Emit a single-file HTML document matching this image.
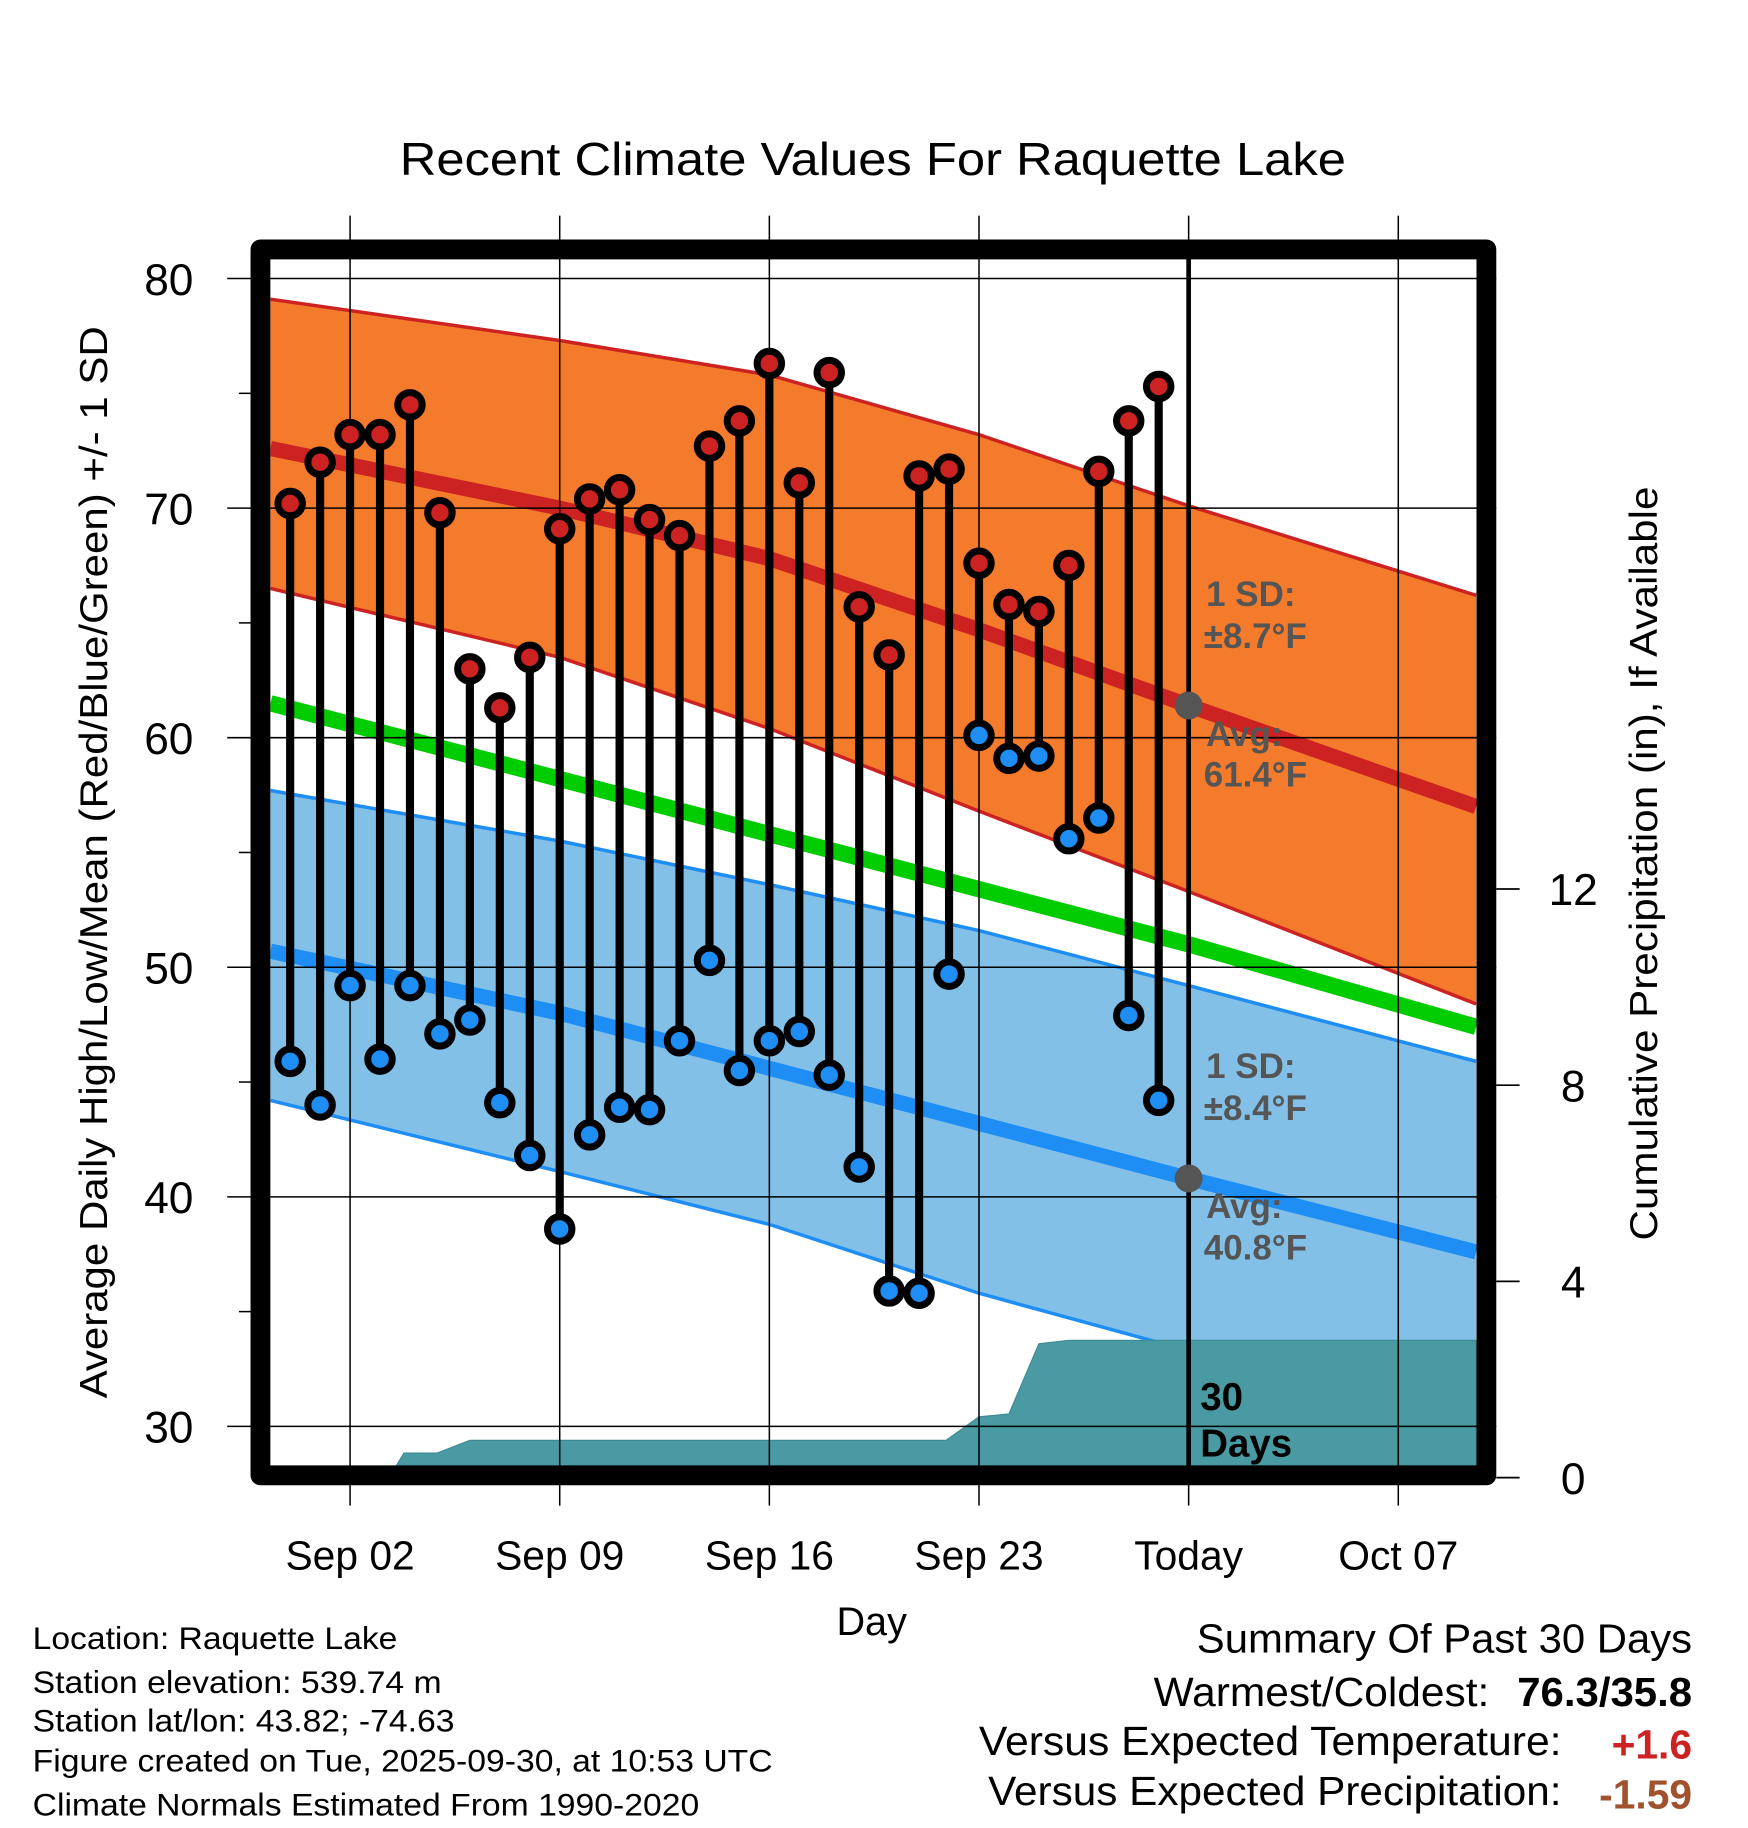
<!DOCTYPE html>
<html><head><meta charset="utf-8"><style>
html,body{margin:0;padding:0;background:#fff}
svg{display:block;font-family:"Liberation Sans",Arial,sans-serif}
</style></head><body>
<svg id="c" width="1748" height="1828" viewBox="0 0 1500 1568.6" xmlns="http://www.w3.org/2000/svg">
<text x="749" y="150" font-size="40" text-anchor="middle" textLength="812" lengthAdjust="spacingAndGlyphs">Recent Climate Values For Raquette Lake</text>
<g id="plot"></g>
<text transform="translate(92,740) rotate(-90)" font-size="33" text-anchor="middle" textLength="920" lengthAdjust="spacingAndGlyphs">Average Daily High/Low/Mean (Red/Blue/Green) +/- 1 SD</text>
<text transform="translate(1422,741) rotate(-90)" font-size="33" text-anchor="middle" textLength="647" lengthAdjust="spacingAndGlyphs">Cumulative Precipitation (in), If Available</text>
<text x="748" y="1403" font-size="34" text-anchor="middle">Day</text>
<g font-size="27">
<text x="28" y="1415" textLength="313" lengthAdjust="spacingAndGlyphs">Location: Raquette Lake</text>
<text x="28" y="1453" textLength="351" lengthAdjust="spacingAndGlyphs">Station elevation: 539.74 m</text>
<text x="28" y="1486" textLength="362" lengthAdjust="spacingAndGlyphs">Station lat/lon: 43.82; -74.63</text>
<text x="28" y="1520" textLength="635" lengthAdjust="spacingAndGlyphs">Figure created on Tue, 2025-09-30, at 10:53 UTC</text>
<text x="28" y="1558" textLength="572" lengthAdjust="spacingAndGlyphs">Climate Normals Estimated From 1990-2020</text>
</g>
<g font-size="35" text-anchor="end">
<text x="1452" y="1418" textLength="425" lengthAdjust="spacingAndGlyphs">Summary Of Past 30 Days</text>
<text x="1278" y="1464" textLength="288" lengthAdjust="spacingAndGlyphs">Warmest/Coldest:</text>
<text x="1452" y="1464" font-weight="bold" textLength="150" lengthAdjust="spacingAndGlyphs">76.3/35.8</text>
<text x="1340" y="1506" textLength="500" lengthAdjust="spacingAndGlyphs">Versus Expected Temperature:</text>
<text x="1452" y="1509" font-weight="bold" fill="#cc2222">+1.6</text>
<text x="1340" y="1549" textLength="492" lengthAdjust="spacingAndGlyphs">Versus Expected Precipitation:</text>
<text x="1452" y="1552" font-weight="bold" fill="#a0522d">-1.59</text>
</g>
</svg>
<script>
const days=[0,1,2,3,4,5,6,7,8,9,10,11,12,13,14,15,16,17,18,19,20,21,22,23,24,25,26,27,28,29];
const highs=[70.2,72.0,73.2,73.2,74.5,69.8,63.0,61.3,63.5,69.1,70.4,70.8,69.5,68.8,72.7,73.8,76.3,71.1,75.9,65.7,63.6,71.4,71.7,67.6,65.8,65.5,67.5,71.6,73.8,75.3];
const lows=[45.9,44.0,49.2,46.0,49.2,47.1,47.7,44.1,41.8,38.6,42.7,43.9,43.8,46.8,50.3,45.5,46.8,47.2,45.3,41.3,35.9,35.8,49.7,60.1,59.1,59.2,55.6,56.5,47.9,44.2];
const normDays=[-0.66,9,16,23,30,39.6];
const normHigh=[72.6,70.0,67.8,64.7,61.4,57.0];
const normHighUp=[79.1,77.3,75.8,73.2,70.1,66.2];
const normHighLo=[66.5,63.5,60.4,56.8,53.3,48.4];
const normMean=[61.5,58.2,55.8,53.4,51.0,47.4];
const normLow=[50.7,48.0,45.6,43.2,40.8,37.6];
const normLowUp=[57.7,55.5,53.6,51.6,49.2,45.9];
const normLowLo=[44.2,41.1,38.8,35.8,33.3,30.5];
const precipDays=[-0.66,3.3,3.8,4.9,6,21.9,23,24,25,26,39.6];
const precipVals=[0,0,0.5,0.5,0.76,0.76,1.24,1.3,2.73,2.8,2.8];
const yTicks=[30,40,50,60,70,80];
const y2Ticks=[0,4,8,12];
const xTickDays=[2,9,16,23,30,37];
const xTickLabels=["Sep 02","Sep 09","Sep 16","Sep 23","Today","Oct 07"];

const X=d=>249+25.7*d;
const Y=v=>239+(80-v)*19.7;
const Y2=p=>1268-p*42.1;
const NS='http://www.w3.org/2000/svg';
const plot=document.getElementById('plot');
function mk(tag,attrs,parent){const e=document.createElementNS(NS,tag);for(const k in attrs)e.setAttribute(k,attrs[k]);(parent||plot).appendChild(e);return e;}
const L=232,R=1267,T=222,B=1260;
const clip=mk('clipPath',{id:'cl'});mk('rect',{x:L,y:T,width:R-L,height:B-T},clip);
const g=mk('g',{'clip-path':'url(#cl)'});
function band(up,lo,fill,stroke,name){
  let d='M'+normDays.map((dd,i)=>X(dd)+','+Y(up[i])).join('L');
  for(let i=normDays.length-1;i>=0;i--)d+='L'+X(normDays[i])+','+Y(lo[i]);
  const p=mk('path',{d:d+'Z',fill:fill},g);
  
  
  [up,lo].forEach(a=>{const l=mk('path',{d:'M'+normDays.map((dd,i)=>X(dd)+','+Y(a[i])).join('L'),fill:'none',stroke:stroke,'stroke-width':3},g);
  
  });
}
function line(a,col,w,name){const l=mk('path',{d:'M'+normDays.map((dd,i)=>X(dd)+','+Y(a[i])).join('L'),fill:'none',stroke:col,'stroke-width':w},g);
  
  }
band(normLowUp,normLowLo,'#83c0e7','#1e8ef5','low-sd-band');
band(normHighUp,normHighLo,'#f47a2c','#cc2222','high-sd-band');
line(normMean,'#00cc00',14,'normal-mean-line');
line(normHigh,'#cc2222',13,'normal-high-line');
line(normLow,'#1e8ef5',13,'normal-low-line');
let pd='M'+X(precipDays[0])+','+Y2(0);
precipDays.forEach((dd,i)=>{pd+='L'+X(dd)+','+Y2(precipVals[i]);});
pd+='L'+X(precipDays[precipDays.length-1])+','+Y2(0)+'Z';
const pa=mk('path',{d:pd,fill:'#4a9aa3',stroke:'#3d8a93','stroke-width':1},g);


yTicks.forEach(v=>{const l=mk('line',{x1:195,x2:1284,y1:Y(v),y2:Y(v),stroke:'#000','stroke-width':1.3});
  
  
  const t=mk('text',{x:166,y:Y(v)+14,'font-size':38,'text-anchor':'end'});t.textContent=v;
  
  
  if(v<80){const m=mk('line',{x1:205,x2:215,y1:Y(v+5),y2:Y(v+5),stroke:'#000','stroke-width':1.3});
  
  }});
xTickDays.forEach((dd,i)=>{const l=mk('line',{x1:X(dd),x2:X(dd),y1:185,y2:1292,stroke:'#000','stroke-width':1.3});
  
  
  const t=mk('text',{x:X(dd),y:1347,'font-size':35,'text-anchor':'middle'});t.textContent=xTickLabels[i];
  
  });
y2Ticks.forEach(p=>{const l=mk('line',{x1:1284,x2:1304,y1:Y2(p),y2:Y2(p),stroke:'#000','stroke-width':1.5});
  
  
  const t=mk('text',{x:1350,y:Y2(p)+14,'font-size':38,'text-anchor':'middle'});t.textContent=p;
  
  });
const tl=mk('line',{x1:X(30),x2:X(30),y1:215,y2:1262,stroke:'#000','stroke-width':4});


days.forEach((dd,i)=>{const x=X(dd);
  const s=mk('line',{x1:x,x2:x,y1:Y(highs[i]),y2:Y(lows[i]),stroke:'#000','stroke-width':7});
  
  
  const h=mk('circle',{cx:x,cy:Y(highs[i]),r:10.5,fill:'#cc2222',stroke:'#000','stroke-width':6});
  
  
  const lo=mk('circle',{cx:x,cy:Y(lows[i]),r:10.5,fill:'#1e8ef5',stroke:'#000','stroke-width':6});
  
  });
[[normHigh[4]],[normLow[4]]].forEach(a=>{const c=mk('circle',{cx:X(30),cy:Y(a[0]),r:12,fill:'#555'});
  
  });
function txt(s,x,y,sz,col,name){const t=mk('text',{x:x,y:y,'font-size':sz,'font-weight':'bold',fill:col});t.textContent=s;
  
  }
txt('1 SD:',1035,520,30,'#555','high-sd-label');txt('±8.7°F',1033,556,30,'#555','high-sd-value');
txt('Avg:',1035,640,30,'#555','high-avg-label');txt('61.4°F',1033,675,30,'#555','high-avg-value');
txt('1 SD:',1035,925,30,'#555','low-sd-label');txt('±8.4°F',1033,961,30,'#555','low-sd-value');
txt('Avg:',1035,1045,30,'#555','low-avg-label');txt('40.8°F',1033,1081,30,'#555','low-avg-value');
txt('30',1030,1210,33,'#000','days-count-label');txt('Days',1030,1250,33,'#000','days-label');
const fr=mk('rect',{x:223.5,y:214,width:1052,height:1052,fill:'none',stroke:'#000','stroke-width':17,'stroke-linejoin':'round'});


</script>
</body></html>
